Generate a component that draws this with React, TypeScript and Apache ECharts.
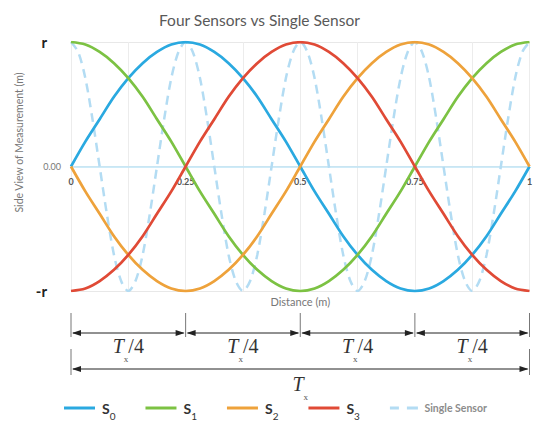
import React, { useEffect, useRef } from 'react';
import * as echarts from 'echarts';

const sensorX = [0, 0.03125, 0.0625, 0.09375, 0.125, 0.15625, 0.1875, 0.21875, 0.25, 0.28125, 0.3125, 0.34375, 0.375, 0.40625, 0.4375, 0.46875, 0.5, 0.53125, 0.5625, 0.59375, 0.625, 0.65625, 0.6875, 0.71875, 0.75, 0.78125, 0.8125, 0.84375, 0.875, 0.90625, 0.9375, 0.96875, 1];
const s0 = [0, 0.2, 0.38, 0.56, 0.71, 0.83, 0.92, 0.98, 1, 0.98, 0.92, 0.83, 0.71, 0.56, 0.38, 0.2, 0, -0.2, -0.38, -0.56, -0.71, -0.83, -0.92, -0.98, -1, -0.98, -0.92, -0.83, -0.71, -0.56, -0.38, -0.2, 0];
const s1 = [1, 0.98, 0.92, 0.83, 0.71, 0.56, 0.38, 0.2, 0, -0.2, -0.38, -0.56, -0.71, -0.83, -0.92, -0.98, -1, -0.98, -0.92, -0.83, -0.71, -0.56, -0.38, -0.2, 0, 0.2, 0.38, 0.56, 0.71, 0.83, 0.92, 0.98, 1];
const s2 = [0, -0.2, -0.38, -0.56, -0.71, -0.83, -0.92, -0.98, -1, -0.98, -0.92, -0.83, -0.71, -0.56, -0.38, -0.2, 0, 0.2, 0.38, 0.56, 0.71, 0.83, 0.92, 0.98, 1, 0.98, 0.92, 0.83, 0.71, 0.56, 0.38, 0.2, 0];
const s3 = [-1, -0.98, -0.92, -0.83, -0.71, -0.56, -0.38, -0.2, 0, 0.2, 0.38, 0.56, 0.71, 0.83, 0.92, 0.98, 1, 0.98, 0.92, 0.83, 0.71, 0.56, 0.38, 0.2, 0, -0.2, -0.38, -0.56, -0.71, -0.83, -0.92, -0.98, -1];

const singleX = [
  0, 0.015625, 0.03125, 0.046875, 0.0625, 0.078125, 0.09375, 0.109375,
  0.125, 0.140625, 0.15625, 0.171875, 0.1875, 0.203125, 0.21875, 0.234375,
  0.25, 0.265625, 0.28125, 0.296875, 0.3125, 0.328125, 0.34375, 0.359375,
  0.375, 0.390625, 0.40625, 0.421875, 0.4375, 0.453125, 0.46875, 0.484375,
  0.5, 0.515625, 0.53125, 0.546875, 0.5625, 0.578125, 0.59375, 0.609375,
  0.625, 0.640625, 0.65625, 0.671875, 0.6875, 0.703125, 0.71875, 0.734375,
  0.75, 0.765625, 0.78125, 0.796875, 0.8125, 0.828125, 0.84375, 0.859375,
  0.875, 0.890625, 0.90625, 0.921875, 0.9375, 0.953125, 0.96875, 0.984375, 1,
];
const single = [
  1, 0.92, 0.71, 0.38, 0, -0.38, -0.71, -0.92, -1, -0.92, -0.71, -0.38, 0, 0.38, 0.71, 0.92,
  1, 0.92, 0.71, 0.38, 0, -0.38, -0.71, -0.92, -1, -0.92, -0.71, -0.38, 0, 0.38, 0.71, 0.92,
  1, 0.92, 0.71, 0.38, 0, -0.38, -0.71, -0.92, -1, -0.92, -0.71, -0.38, 0, 0.38, 0.71, 0.92,
  1, 0.92, 0.71, 0.38, 0, -0.38, -0.71, -0.92, -1, -0.92, -0.71, -0.38, 0, 0.38, 0.71, 0.92,
  1,
];

const shownXTicks = [0, 0.25, 0.5, 0.75, 1];
const dimTicks = [0, 0.25, 0.5, 0.75, 1];
const seriesNames = ['S0', 'S1', 'S2', 'S3', 'Single Sensor'];
const colors = ['#2aa9e0', '#7cc243', '#eea23b', '#e04a36', '#b3dcf3'];

const FONT = 'Lato';
const SERIF = 'Liberation Serif';

function pairs(xs: number[], ys: number[]) {
  return xs.map((x, i) => [x, ys[i]]);
}

export default function App() {
  const ref = useRef<HTMLDivElement>(null);
  useEffect(() => {
    document.body.style.margin = '0';
    const chart = echarts.init(ref.current!, null, { renderer: 'svg' });
    const solid = (name: string, ys: number[], color: string) => ({
      name,
      type: 'line',
      xAxisIndex: 0,
      data: pairs(sensorX, ys),
      smooth: 0.3,
      symbol: 'none',
      lineStyle: { color, width: 2.75 },
      itemStyle: { color },
    });
    const legendData = seriesNames.map((n) =>
      n === 'Single Sensor'
        ? { name: n, icon: 'path://M0,0h9v3h-9z M17,0h11v3h-11z' }
        : { name: n, icon: 'rect' }
    );
    chart.setOption({
      animation: false,
      title: {
        text: 'Four Sensors vs Single Sensor',
        left: 154,
        top: 7,
        textStyle: { fontFamily: FONT, fontSize: 15.5, fontWeight: 'normal', color: '#595959' },
      },
      grid: { left: 71, right: 20.5, top: 42, bottom: 143 },
      legend: {
        data: legendData,
        left: 59,
        top: 396,
        itemWidth: 31,
        itemHeight: 3,
        itemGap: 30,
        itemStyle: { borderWidth: 0 },
        lineStyle: { width: 0 },
        formatter: (name: string) =>
          name === 'Single Sensor' ? '{ss|Single Sensor}' : `{s|S}{sub|${name.slice(1)}}`,
        textStyle: {
          fontFamily: FONT,
          rich: {
            s: { fontFamily: FONT, fontSize: 14, fontWeight: 'bold', color: '#333', lineHeight: 26, padding: [0, 0, 0, 2] },
            sub: { fontFamily: FONT, fontSize: 10, color: '#333', lineHeight: 10, verticalAlign: 'bottom' },
            ss: { fontFamily: FONT, fontSize: 10.5, fontWeight: 'bold', color: '#8c8c8c', lineHeight: 26, padding: [0, 0, 0, 0] },
          },
        },
      },
      xAxis: [
        {
          type: 'value',
          min: 0,
          max: 1,
          interval: 0.125,
          position: 'bottom',
          offset: 0,
          axisLine: { onZero: false, lineStyle: { color: '#bfe5f6', width: 1.5 } },
          axisTick: { show: false },
          axisLabel: {
            margin: 10,
            fontFamily: FONT,
            fontSize: 9,
            fontWeight: 'bold',
            color: '#555',
            formatter: (v: number) => (shownXTicks.some((t) => Math.abs(t - v) < 1e-9) ? String(v) : ''),
          },
          splitLine: { show: true, lineStyle: { color: '#ececec', width: 1 } },
        },
        {
          type: 'value',
          min: 0,
          max: 1,
          position: 'bottom',
          axisLine: { show: false, onZero: false },
          axisTick: { show: false },
          axisLabel: { show: false },
          splitLine: { show: false },
          name: 'Distance (m)',
          nameLocation: 'middle',
          nameGap: 5,
          nameTextStyle: { fontFamily: FONT, fontSize: 11, color: '#777', verticalAlign: 'top' },
        },
      ],
      yAxis: {
        type: 'value',
        min: -1,
        max: 1,
        interval: 1,
        axisLine: { show: false },
        axisTick: { show: false },
        splitLine: { show: true, lineStyle: { color: '#e8e8e8', width: 1 } },
        axisLabel: {
          margin: 10,
          formatter: (v: number) => (v === 1 ? '{r|r}' : v === -1 ? '{r|-r}' : '{z|0.00}'),
          rich: {
            r: { fontFamily: FONT, fontSize: 15, fontWeight: 'bold', color: '#222', padding: [0, 14, 0, 0] },
            z: { fontFamily: FONT, fontSize: 9, color: '#777' },
          },
        },
        name: 'Side View of Measurement (m)',
        nameLocation: 'middle',
        nameGap: 44,
        nameTextStyle: { fontFamily: FONT, fontSize: 10.5, color: '#777', padding: [0, 0, 0, 48] },
      },
      series: [
        {
          name: 'Single Sensor',
          type: 'line',
          xAxisIndex: 0,
          data: pairs(singleX, single),
          smooth: 0.3,
          symbol: 'none',
          lineStyle: { color: colors[4], width: 2.5, type: [9, 6] },
          itemStyle: { color: colors[4] },
        },
        solid('S0', s0, colors[0]),
        solid('S1', s1, colors[1]),
        solid('S2', s2, colors[2]),
        solid('S3', s3, colors[3]),
      ],
    });

    // move the x axis (line + labels) onto the zero line, measured through the y scale
    const yZero = chart.convertToPixel({ yAxisIndex: 0 }, 0) as number;
    const yBottom = chart.convertToPixel({ yAxisIndex: 0 }, -1) as number;
    chart.setOption({ xAxis: [{ offset: -(yBottom - yZero) }, {}] });

    const px = dimTicks.map((v) => chart.convertToPixel({ xAxisIndex: 0 }, v) as number);
    const g: any[] = [];
    const tickColor = '#777';
    const arrowColor = '#222';
    const addArrow = (xa: number, xb: number, y: number) => {
      g.push({ type: 'line', shape: { x1: xa + 2, y1: y, x2: xb - 2, y2: y }, style: { stroke: arrowColor, lineWidth: 1 } });
      g.push({ type: 'polygon', shape: { points: [[xa + 1, y], [xa + 10, y - 3], [xa + 10, y + 3]] }, style: { fill: arrowColor } });
      g.push({ type: 'polygon', shape: { points: [[xb - 1, y], [xb - 10, y - 3], [xb - 10, y + 3]] }, style: { fill: arrowColor } });
    };
    const label = (cx: number, cy: number, txt: string) => {
      g.push({
        type: 'text',
        x: cx,
        y: cy,
        style: {
          text: txt,
          align: 'center',
          verticalAlign: 'middle',
          rich: {
            t: { fontFamily: SERIF, fontStyle: 'italic', fontSize: 20, fill: '#333', lineHeight: 34 },
            x: { fontFamily: SERIF, fontSize: 9, fill: '#555', lineHeight: 10, verticalAlign: 'bottom' },
            n: { fontFamily: SERIF, fontSize: 20, fill: '#333', lineHeight: 34 },
          },
        },
      });
    };
    px.forEach((x) => {
      g.push({ type: 'line', shape: { x1: x, y1: 313, x2: x, y2: 337 }, style: { stroke: tickColor, lineWidth: 1 } });
    });
    for (let i = 0; i < px.length - 1; i++) {
      addArrow(px[i], px[i + 1], 333);
      label((px[i] + px[i + 1]) / 2, 346, '{t|T}{x|x}{n|/4}');
    }
    const first = px[0];
    const last = px[px.length - 1];
    g.push({ type: 'line', shape: { x1: first, y1: 349, x2: first, y2: 375 }, style: { stroke: tickColor, lineWidth: 1 } });
    g.push({ type: 'line', shape: { x1: last, y1: 349, x2: last, y2: 375 }, style: { stroke: tickColor, lineWidth: 1 } });
    addArrow(first, last, 369);
    label((first + last) / 2, 384, '{t|T}{x|x}');
    chart.setOption({ graphic: g });

    return () => chart.dispose();
  }, []);
  return <div ref={ref} style={{ width: 550, height: 434 }} />;
}
